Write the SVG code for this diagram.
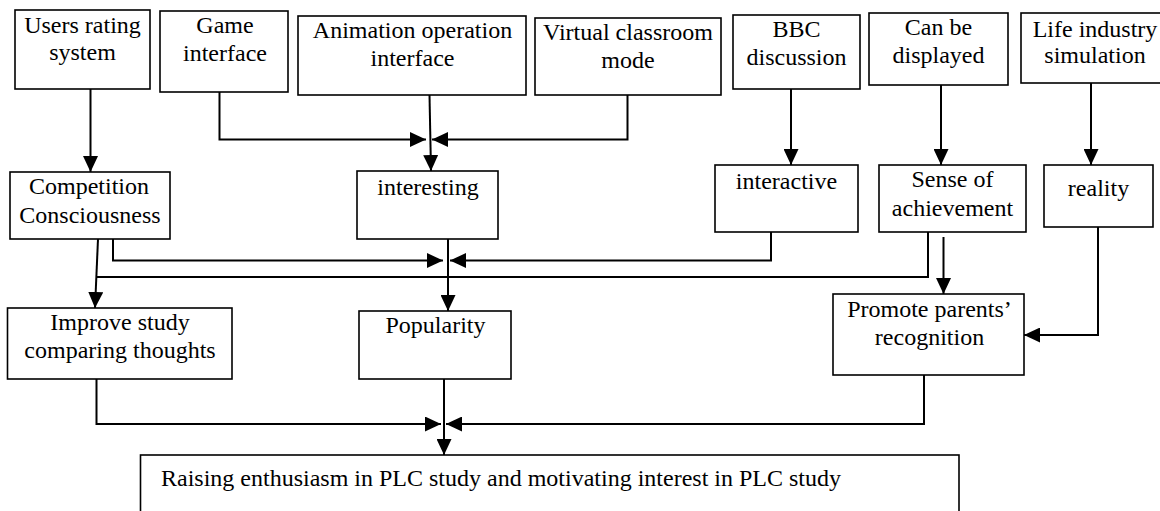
<svg xmlns="http://www.w3.org/2000/svg" width="1160" height="511" viewBox="0 0 1160 511">
<defs>
<style>
.box{fill:#fff;stroke:#000;stroke-width:1.6}
.t{font-family:"Liberation Serif","Times New Roman",serif;font-size:24px;fill:#000;text-anchor:middle}
.tl{font-family:"Liberation Serif","Times New Roman",serif;font-size:24px;fill:#000}
.c{fill:none;stroke:#000;stroke-width:2}
.a{marker-end:url(#arr)}
</style>
<marker id="arr" markerUnits="userSpaceOnUse" markerWidth="16" markerHeight="15" refX="16" refY="7.5" orient="auto">
<path d="M0,0 L16,7.5 L0,15 z" fill="#000"/>
</marker>
</defs>
<rect width="1160" height="511" fill="#fff"/>
<g id="connectors">
<path class="c a" d="M90.5,89 V172"/>
<path class="c a" d="M219.5,92 V139.5 H426"/>
<path class="c a" d="M429.5,95 L431,171"/>
<path class="c a" d="M627.5,95 V139.5 H432"/>
<path class="c a" d="M791,89 V165"/>
<path class="c a" d="M941,85 V165"/>
<path class="c a" d="M1091,83 V165"/>
<path class="c a" d="M113,239 V260.5 H443"/>
<path class="c a" d="M771,232 V260.5 H450"/>
<path class="c a" d="M448,239 V311"/>
<path class="c a" d="M98,239 L95,308"/>
<path class="c" d="M928,232 V277 H97"/>
<path class="c a" d="M943.5,237 V294"/>
<path class="c a" d="M1098,227 V335 H1024"/>
<path class="c a" d="M96.5,379 V424 H441"/>
<path class="c a" d="M924,375 V424 H446"/>
<path class="c a" d="M444,379 V455"/>
</g>
<g id="users">
<rect class="box" x="15" y="10" width="135" height="79"/>
<text class="t" x="82.5" y="33">Users rating</text>
<text class="t" x="82.5" y="60">system</text>
</g>
<g id="game">
<rect class="box" x="160" y="11" width="128" height="81"/>
<text class="t" x="225" y="33">Game</text>
<text class="t" x="225" y="61">interface</text>
</g>
<g id="animation">
<rect class="box" x="298" y="16" width="228" height="79"/>
<text class="t" x="412.5" y="38">Animation operation</text>
<text class="t" x="412.5" y="66">interface</text>
</g>
<g id="virtual">
<rect class="box" x="535" y="18" width="186" height="77"/>
<text class="t" x="628" y="40">Virtual classroom</text>
<text class="t" x="628" y="68">mode</text>
</g>
<g id="bbc">
<rect class="box" x="733" y="15" width="127" height="74"/>
<text class="t" x="796.5" y="37">BBC</text>
<text class="t" x="796.5" y="65">discussion</text>
</g>
<g id="displayed">
<rect class="box" x="869" y="13" width="139" height="72"/>
<text class="t" x="938.5" y="35">Can be</text>
<text class="t" x="938.5" y="63">displayed</text>
</g>
<g id="life">
<rect class="box" x="1021" y="13" width="145" height="70"/>
<text class="t" x="1095" y="37">Life industry</text>
<text class="t" x="1095" y="63">simulation</text>
</g>
<g id="competition">
<rect class="box" x="10" y="172" width="160" height="67"/>
<text class="t" x="89" y="194">Competition</text>
<text class="t" x="90" y="223">Consciousness</text>
</g>
<g id="interesting">
<rect class="box" x="357" y="171" width="141" height="68"/>
<text class="t" x="428" y="195">interesting</text>
</g>
<g id="interactive">
<rect class="box" x="715" y="165" width="143" height="67"/>
<text class="t" x="786.5" y="189">interactive</text>
</g>
<g id="sense">
<rect class="box" x="879" y="165" width="147" height="67"/>
<text class="t" x="952.5" y="187">Sense of</text>
<text class="t" x="952.5" y="216">achievement</text>
</g>
<g id="reality">
<rect class="box" x="1044" y="165" width="109" height="62"/>
<text class="t" x="1098.5" y="196">reality</text>
</g>
<g id="improve">
<rect class="box" x="7.5" y="308" width="224.5" height="71"/>
<text class="t" x="120" y="330">Improve study</text>
<text class="t" x="120" y="358">comparing thoughts</text>
</g>
<g id="popularity">
<rect class="box" x="359" y="311" width="152" height="68"/>
<text class="t" x="435.5" y="333">Popularity</text>
</g>
<g id="promote">
<rect class="box" x="833" y="294" width="191" height="81"/>
<text class="t" x="929.5" y="317">Promote parents’</text>
<text class="t" x="929.5" y="345">recognition</text>
</g>
<g id="raising">
<rect class="box" x="140.5" y="455" width="818.5" height="70"/>
<text class="tl" x="161" y="486">Raising enthusiasm in PLC study and motivating interest in PLC study</text>
</g>
</svg>
